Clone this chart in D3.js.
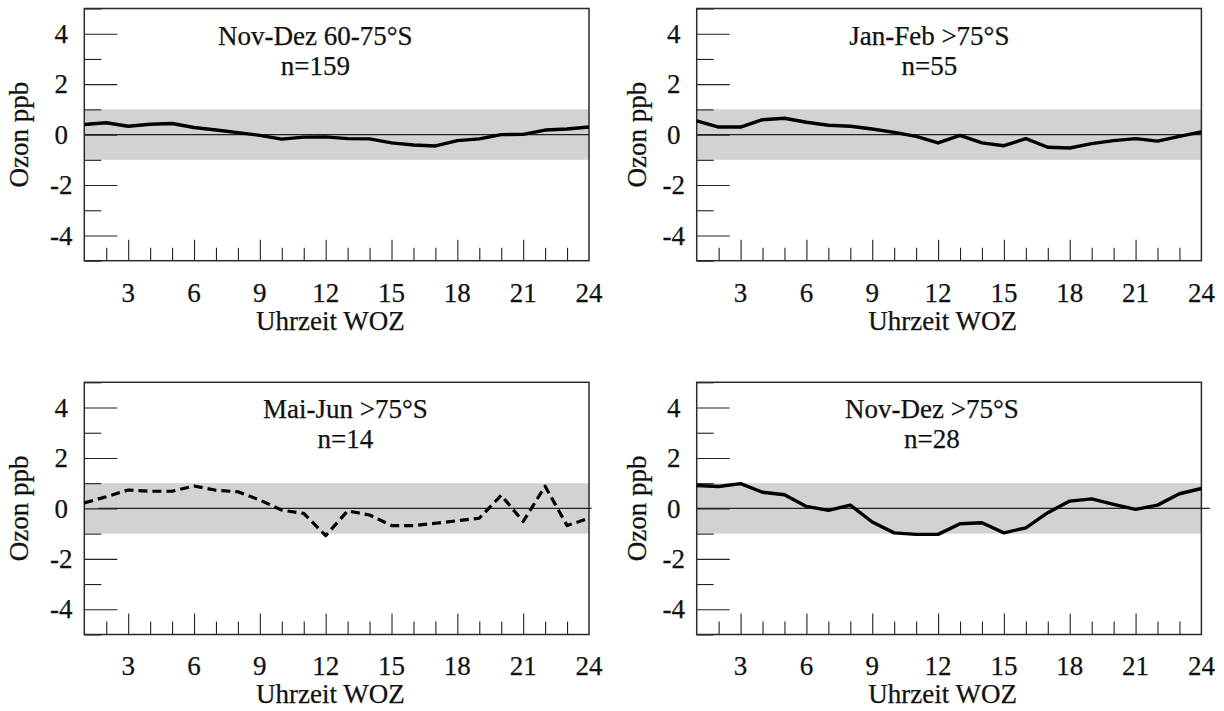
<!DOCTYPE html>
<html>
<head>
<meta charset="utf-8">
<script src="https://cdn.jsdelivr.net/npm/d3@7"></script>
<style>
  html, body { margin: 0; padding: 0; background: #fff; }
  svg { display: block; }
</style>
</head>
<body>
<svg id="chart" width="1224" height="711"></svg>
<script>
// ---------- data ----------
const hours = [1,2,3,4,5,6,7,8,9,10,11,12,13,14,15,16,17,18,19,20,21,22,23,24];

const novDez6075 = [0.40,0.47,0.33,0.41,0.44,0.28,0.18,0.08,-0.03,-0.18,-0.10,-0.09,-0.16,-0.17,-0.33,-0.41,-0.45,-0.24,-0.17,0.00,0.01,0.18,0.22,0.30];
const janFeb75  = [0.54,0.30,0.30,0.59,0.65,0.49,0.37,0.33,0.22,0.09,-0.07,-0.33,-0.03,-0.33,-0.44,-0.16,-0.50,-0.53,-0.36,-0.24,-0.16,-0.26,-0.07,0.11];
const maiJun75  = [0.22,0.46,0.73,0.68,0.68,0.89,0.72,0.66,0.33,-0.07,-0.20,-1.08,-0.10,-0.26,-0.68,-0.68,-0.59,-0.49,-0.39,0.52,-0.52,0.88,-0.68,-0.39];
const novDez75  = [0.91,0.87,0.98,0.64,0.54,0.08,-0.08,0.13,-0.54,-0.97,-1.03,-1.03,-0.61,-0.57,-0.97,-0.77,-0.17,0.29,0.38,0.16,-0.04,0.13,0.58,0.79];

const panelTitles = ["Nov-Dez 60-75°S", "Jan-Feb >75°S", "Mai-Jun >75°S", "Nov-Dez >75°S"];
const panelCounts = ["n=159", "n=55", "n=14", "n=28"];
const panelSeries = [novDez6075, janFeb75, maiJun75, novDez75];

const bandRange = [-1, 1];
const xTickLabels = [3,6,9,12,15,18,21,24];
const yTickLabels = [-4,-2,0,2,4];
const yMinorTicks = [-5,-3,-1,1,3,5];
const xAxisTitle = "Uhrzeit WOZ";
const yAxisTitle = "Ozon ppb";

// ---------- layout ----------
const W = 504.7, H = 252.2;
const FONT = "'Liberation Serif', 'Times New Roman', Times, serif";
const FS = 27;
const panels = [
  { left: 84.3,  top: 8.5,   titleX: 11.53, yLabOff: -56, dashed: false, zero: [1, 24] },
  { left: 696.7, top: 8.5,   titleX: 11.6,  yLabOff: -51, dashed: false, zero: [1, 24] },
  { left: 84.3,  top: 382.3, titleX: 12.9,  yLabOff: -56, dashed: true,  zero: [1.64, 24.12] },
  { left: 696.7, top: 382.3, titleX: 11.72, yLabOff: -51, dashed: false, zero: [1, 24.38] }
];

const svg = d3.select("#chart");

function addText(sel) {
  return sel.append("text")
    .attr("font-family", FONT)
    .attr("font-size", FS)
    .attr("fill", "#111")
    .attr("stroke", "#111")
    .attr("stroke-width", 0.25);
}

panels.forEach((p, i) => {
  const g = svg.append("g").attr("transform", `translate(${p.left},${p.top})`);
  const x = d3.scaleLinear().domain([1, 24]).range([0, W]);
  const y = d3.scaleLinear().domain([-5, 5]).range([H, 0]);

  // gray band
  g.append("rect")
    .attr("x", x(1)).attr("width", x(24) - x(1))
    .attr("y", y(bandRange[1])).attr("height", y(bandRange[0]) - y(bandRange[1]))
    .attr("fill", "#d2d2d2");

  // zero line
  g.append("line")
    .attr("x1", x(p.zero[0])).attr("x2", x(p.zero[1]))
    .attr("y1", y(0)).attr("y2", y(0))
    .attr("stroke", "#222").attr("stroke-width", 1.2);

  // y axis ticks (inward)
  const yMajor = d3.axisRight(y).tickValues(yTickLabels).tickSize(33).tickFormat("");
  const yMinor = d3.axisRight(y).tickValues(yMinorTicks).tickSize(17).tickFormat("");
  [yMajor, yMinor].forEach(ax => {
    const ag = g.append("g").call(ax);
    ag.select(".domain").remove();
    ag.selectAll("line").attr("stroke", "#222").attr("stroke-width", 1.1);
  });

  // x axis ticks (inward, pointing up)
  const xMajor = d3.axisTop(x).tickValues(xTickLabels.filter(v => v < 24)).tickSize(21).tickFormat("");
  const xMinor = d3.axisTop(x).tickValues(hours.filter(h => h > 1 && h < 24 && h % 3 !== 0)).tickSize(13).tickFormat("");
  [xMajor, xMinor].forEach(ax => {
    const ag = g.append("g").attr("transform", `translate(0,${H})`).call(ax);
    ag.select(".domain").remove();
    ag.selectAll("line").attr("stroke", "#222").attr("stroke-width", 1.1);
  });

  // frame
  g.append("rect")
    .attr("x", 0).attr("y", 0).attr("width", W).attr("height", H)
    .attr("fill", "none").attr("stroke", "#2a2a2a").attr("stroke-width", 1.5);

  // y tick labels
  yTickLabels.forEach(d => {
    addText(g).attr("x", -23).attr("y", y(d)).attr("dy", "0.34em")
      .attr("text-anchor", "middle").text(String(d));
  });

  // x tick labels
  xTickLabels.forEach(d => {
    addText(g).attr("x", x(d)).attr("y", H + 41)
      .attr("text-anchor", "middle").text(String(d));
  });

  // axis titles
  addText(g).attr("x", 246).attr("y", H + 69)
    .attr("text-anchor", "middle").text(xAxisTitle);

  addText(g).attr("transform", `translate(${p.yLabOff},${H / 2}) rotate(-90)`)
    .attr("text-anchor", "middle").text(yAxisTitle);

  // panel annotation
  addText(g).attr("x", x(p.titleX)).attr("y", 36)
    .attr("text-anchor", "middle").text(panelTitles[i]);
  addText(g).attr("x", x(p.titleX)).attr("y", 66)
    .attr("text-anchor", "middle").text(panelCounts[i]);

  // data line
  const vals = panelSeries[i];
  const line = d3.line().x((d, k) => x(hours[k])).y(d => y(d));
  g.append("path")
    .datum(vals)
    .attr("d", line)
    .attr("fill", "none")
    .attr("stroke", "#000")
    .attr("stroke-width", p.dashed ? 3.2 : 3.4)
    .attr("stroke-linejoin", "round")
    .attr("stroke-dasharray", p.dashed ? "9,5" : null);
});
</script>
</body>
</html>
